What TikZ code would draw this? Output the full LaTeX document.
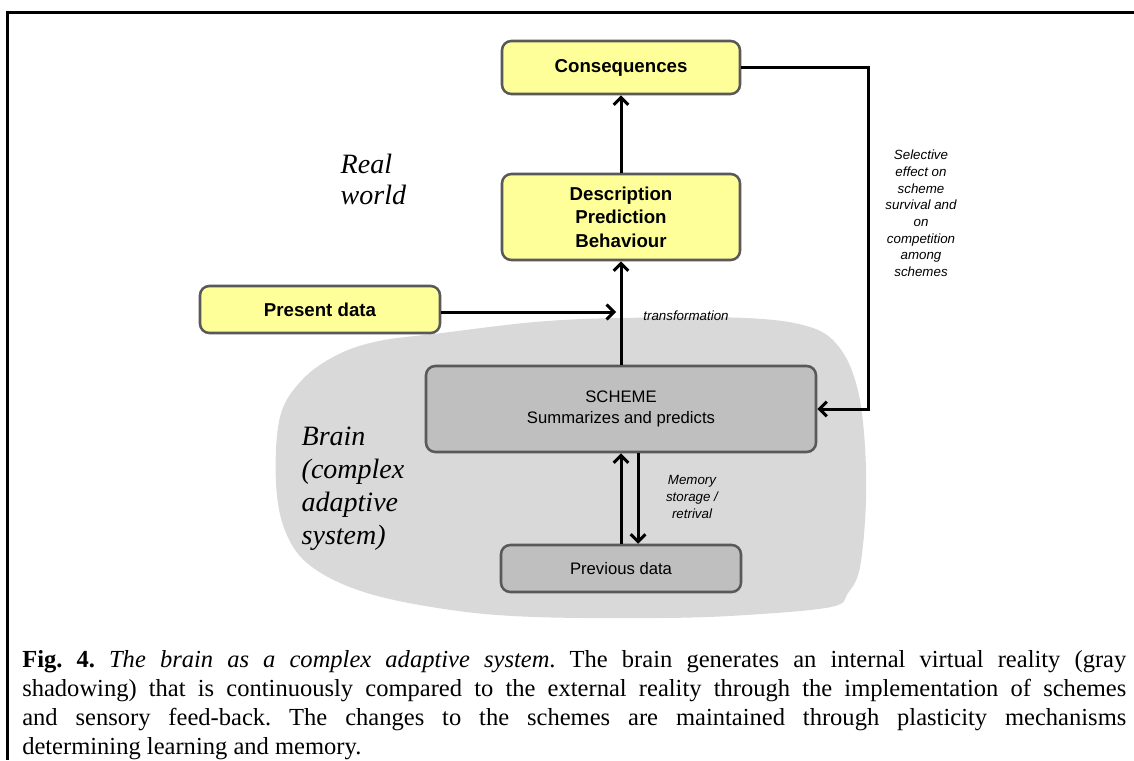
\documentclass[tikz,border=0pt]{standalone}
\usepackage{fontspec}
\setmainfont{Liberation Serif}
\setsansfont{Liberation Sans}
\usetikzlibrary{arrows.meta,calc}
\definecolor{boxyellow}{HTML}{FFFF99}
\definecolor{boxgray}{HTML}{BFBFBF}
\definecolor{brainfill}{HTML}{D9D9D9}
\definecolor{boxedge}{HTML}{595959}

\begin{document}
\begin{tikzpicture}[x=0.75pt,y=-0.75pt,
  box/.style={rectangle, rounded corners=7pt, draw=boxedge, line width=1.9pt, align=center, inner sep=0pt,
    font=\sffamily\fontsize{12.5}{15.75}\selectfont},
  realbox/.style={box, fill=boxyellow, font=\sffamily\bfseries\fontsize{14}{17.6}\selectfont},
  mindbox/.style={box, fill=boxgray},
  arr/.style={-{Straight Barb[length=5.5pt,width=11pt]}, line width=2.25pt},
  note/.style={font=\sffamily\itshape\fontsize{10}{12.5}\selectfont, align=center},
  place/.style={anchor=west, align=left, font=\itshape\fontsize{21}{24}\selectfont}]
\useasboundingbox (0,0) rectangle (1134,760);

% Frame
\draw[line width=2.25pt] (1134,12) -- (7,12) -- (7,760);

% Brain shadow
\fill[brainfill] plot[smooth cycle, tension=0.6] coordinates {
  (442,333) (535,322) (620,318) (746,318) (810,327) (839,347) (856,383)
  (864,433) (866,500) (860,567) (848,593) (831,607) (746,615) (662,618)
  (535,617) (451,610) (367,593) (312,567) (286,533) (276,483) (280,417)
  (302,380) (337,355) (379,341)};

% Boxes
\node[realbox, minimum width=178.5pt, minimum height=39.75pt] (cons) at (621,67.5) {Consequences};
\node[realbox, minimum width=178.5pt, minimum height=64.5pt] (desc) at (621,217) {Description\\Prediction\\Behaviour};
\node[realbox, minimum width=180pt, minimum height=35.25pt] (present) at (320,309.5) {Present data};
\node[mindbox, minimum width=292.5pt, minimum height=64.5pt] (scheme) at (621,409) {SCHEME\\Summarizes and predicts};
\node[mindbox, minimum width=180pt, minimum height=35.25pt] (prev) at (621,568.5) {Previous data};

% Connections
\coordinate (join) at (616,312);
\draw[arr] (desc) -- (cons);
\draw[arr] (scheme) -- (desc);
\draw[arr] (present.east |- join) -- (join);
\draw[arr] (cons.east) -- ++(127,0) |- (scheme.east);
\draw[arr] (prev.north) -- (prev.north |- scheme.south);
\draw[arr] ($(scheme.south)+(17,0)$) -- ($(prev.north)+(17,0)$);

% Labels
\node[note] (trans) at (686,316) {transformation};
\node[note] (select) at (921,213.5) {Selective\\effect on\\scheme\\survival and\\on\\competition\\among\\schemes};
\node[note] (memory) at (692,497) {Memory\\storage /\\retrival};
\node[place, font=\itshape\fontsize{21}{23.25}\selectfont] (realw) at (336,179) {Real\\world};
\node[place, font=\itshape\fontsize{21}{24.75}\selectfont] (brain) at (297,489) {Brain\\(complex\\adaptive\\system)};

% Caption
\node[anchor=base west, text width=828pt, align=justify, inner sep=0pt,
  font=\fontsize{18.4}{21.75}\selectfont] (caption) at (22,667)
  {\frenchspacing\tolerance=9999\textbf{Fig. 4.} \textit{The brain as a complex adaptive system}. The brain generates an internal virtual reality (gray\linebreak shadowing) that is continuously compared to the external reality through the implementation of schemes\linebreak and sensory feed-back. The changes to the schemes are maintained through plasticity mechanisms\linebreak determining learning and memory.};
\end{tikzpicture}
\end{document}
